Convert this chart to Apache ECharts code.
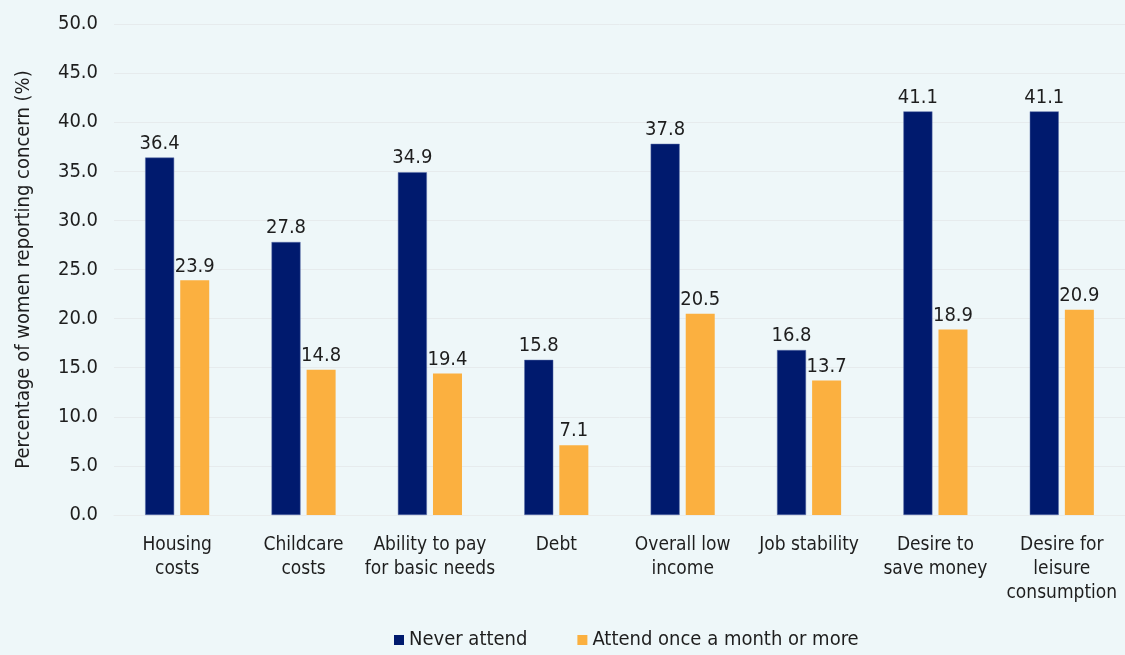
<!DOCTYPE html>
<html><head><meta charset="utf-8">
<script src="https://cdn.jsdelivr.net/npm/echarts@6/dist/echarts.min.js"></script>
<style>html,body{margin:0;padding:0;background:#eef7f9;}#c{width:1125px;height:655px;}</style>
</head><body><div id="c"></div>
<script>
const categories = ["Housing\ncosts","Childcare\ncosts","Ability to pay\nfor basic needs","Debt","Overall low\nincome","Job stability","Desire to\nsave money","Desire for\nleisure\nconsumption"];
const neverAttend = [36.4, 27.8, 34.9, 15.8, 37.8, 16.8, 41.1, 41.1];
const attendMonthly = [23.9, 14.8, 14.4, 7.1, 20.5, 13.7, 18.9, 20.9];
const attendMonthlyLabels = ["23.9","14.8","19.4","7.1","20.5","13.7","18.9","20.9"];
const seriesNames = ["Never attend","Attend once a month or more"];
const FONT = '"Liberation Sans Narrow","DejaVu Sans Condensed","Roboto",sans-serif';
const TXT = '#1e1e1e';
const chart = echarts.init(document.getElementById('c'), null, {renderer:'canvas'});
chart.setOption({
  backgroundColor:'#eef7f9',
  textStyle:{fontFamily:FONT},
  grid:{left:114, right:-10, top:24, bottom:140, containLabel:false},
  legend:{bottom:0, left:389, icon:'rect', itemWidth:10, itemHeight:10, itemGap:50,
    itemStyle:{borderWidth:0},
    textStyle:{fontFamily:FONT, fontSize:20, color:TXT}, data:seriesNames},
  xAxis:{type:'category', data:categories,
    axisLine:{show:true, lineStyle:{color:'#e8eced'}}, axisTick:{show:false},
    axisLabel:{fontFamily:FONT, fontSize:19, color:TXT, lineHeight:24, margin:18, interval:0}},
  yAxis:{type:'value', min:0, max:50, interval:5,
    name:'Percentage of women reporting concern (%)', nameLocation:'middle', nameGap:80,
    nameTextStyle:{fontFamily:FONT, fontSize:20, color:TXT},
    axisLabel:{fontFamily:FONT, fontSize:20, color:TXT, formatter:v=>v.toFixed(1), margin:16},
    splitLine:{lineStyle:{color:'#e6ebed', width:1}},
    axisLine:{show:false}, axisTick:{show:false}},
  series:[
    {name:seriesNames[0], type:'bar', data:neverAttend, barWidth:29, barGap:'21%',
      itemStyle:{color:'#001a6e', borderColor:'#5a6fa8', borderWidth:0.5},
      label:{show:true, position:'top', distance:4, fontFamily:FONT, fontSize:20, color:TXT, formatter:p=>p.value.toFixed(1)}},
    {name:seriesNames[1], type:'bar', data:attendMonthly, barWidth:29,
      itemStyle:{color:'#fbb040'},
      label:{show:true, position:'top', distance:4, fontFamily:FONT, fontSize:20, color:TXT, formatter:p=>attendMonthlyLabels[p.dataIndex]}}
  ]
});
</script></body></html>
